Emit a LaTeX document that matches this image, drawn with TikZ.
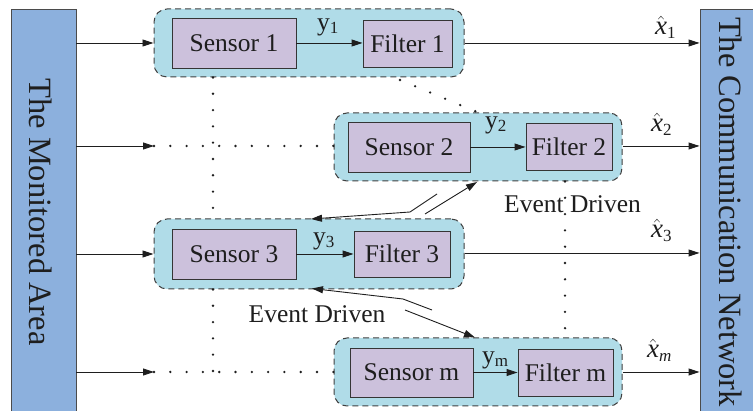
\documentclass[tikz,border=0pt]{standalone}
\usepackage{fontspec}
\setmainfont{Liberation Serif}
\usetikzlibrary{arrows.meta}
\definecolor{barblue}{RGB}{140,176,221}
\definecolor{grpblue}{RGB}{176,220,232}
\definecolor{boxlav}{RGB}{204,193,220}
\definecolor{ink}{RGB}{30,30,30}
\newcommand\xh[1]{$\hat{\mbox{\itshape x}}_{\mbox{\fontsize{17}{17}\selectfont #1}}$}
\newcommand\yl[1]{y\raisebox{-3pt}{\fontsize{17}{17}\selectfont #1}}
\begin{document}
\begin{tikzpicture}[x=1pt,y=-1pt, font=\fontsize{25.5}{30}\selectfont, text=ink,
 bar/.style={draw=ink!80, line width=0.9pt, fill=barblue, inner sep=0pt},
 bartext/.style={rotate=-90, inner sep=0pt, font=\fontsize{32.5}{36}\selectfont},
 grp/.style={draw=ink!85, dash pattern=on 6pt off 4pt, line width=1pt, fill=grpblue, rounded corners=13pt, inner sep=0pt},
 box/.style={draw=ink!90, line width=0.9pt, fill=boxlav, inner sep=0pt},
 arr/.style={draw=ink, line width=0.9pt, -{Triangle[length=11pt,width=7pt]}},
 dotl/.style={draw=ink, line width=2.6pt, line cap=round, dash pattern=on 0pt off 16.3pt},
 lab/.style={inner sep=0pt}]
\useasboundingbox (0,0) rectangle (753,411);
% side bars
\node[bar, minimum width=65pt, minimum height=415pt] (lbar) at (43.5,216.5) {};
\node[bartext] (ltxt) at (41,212) {The Monitored Area};
\node[bar, minimum width=65pt, minimum height=415pt] (rbar) at (732.5,216.5) {};
\node[bartext] (rtxt) at (730.5,212) {The Communication Network};
% groups
\node[grp, minimum width=310pt, minimum height=68pt] (g1) at (309,43) {};
\node[grp, minimum width=288pt, minimum height=68pt] (g2) at (478,147) {};
\node[grp, minimum width=310pt, minimum height=70pt] (g3) at (309,254) {};
\node[grp, minimum width=288pt, minimum height=68pt] (gm) at (478,372) {};
% boxes
\node[box, minimum width=124pt, minimum height=50pt] (s1) at (234,43) {Sensor 1};
\node[box, minimum width=89pt, minimum height=47pt] (f1) at (407.5,43.5) {Filter 1};
\node[box, minimum width=122pt, minimum height=50pt] (s2) at (409,147) {Sensor 2};
\node[box, minimum width=86pt, minimum height=47pt] (f2) at (569,146.5) {Filter 2};
\node[box, minimum width=124pt, minimum height=50pt] (s3) at (234,254) {Sensor 3};
\node[box, minimum width=96pt, minimum height=46pt] (f3) at (402,254) {Filter 3};
\node[box, minimum width=123pt, minimum height=49pt] (sm) at (411.5,372.5) {Sensor m};
\node[box, minimum width=95pt, minimum height=47pt] (fm) at (565.5,372.5) {Filter m};
% helper coordinates
\coordinate (c2) at (154,146);
\coordinate (cm) at (154,372);
\coordinate (vl) at (213,0);
\coordinate (vr) at (565,0);
\coordinate (d1) at (400,80);
\coordinate (d2) at (477,112);
% dotted lines
\draw[dotl] (vl |- g1.south) -- (vl |- g3.north);
\draw[dotl] (vl |- g3.south) -- (vl |- cm);
\draw[dotl] (c2) -- (g2.west |- c2);
\draw[dotl] (cm) -- (gm.west |- cm);
\draw[dotl] (vr |- g2.south) -- (vr |- gm.north);
\draw[dotl] (d1) -- (d2);
% input arrows
\draw[arr] (lbar.east |- s1) -- (g1.west |- s1);
\draw[arr] (lbar.east |- c2) -- (c2);
\draw[arr] (lbar.east |- s3) -- (g3.west |- s3);
\draw[arr] (lbar.east |- cm) -- (cm);
% sensor to filter
\draw[arr] (s1.east) -- (s1.east -| f1.west);
\draw[arr] (s2.east) -- (s2.east -| f2.west);
\draw[arr] (s3.east) -- (s3.east -| f3.west);
\draw[arr] (sm.east) -- (sm.east -| fm.west);
% outputs
\draw[arr] (g1.east |- s1) -- (rbar.west |- s1);
\draw[arr] (g2.east |- c2) -- (rbar.west |- c2);
\draw[arr] (g3.east |- 0,253) -- (rbar.west |- 0,253);
\draw[arr] (gm.east |- cm) -- (rbar.west |- cm);
% event driven arrows
\coordinate (ea1) at (437,194);
\coordinate (ea2) at (410,212);
\coordinate (ea3) at (311,219);
\coordinate (eb1) at (425,214);
\coordinate (eb2) at (477,182);
\coordinate (ec1) at (432,310);
\coordinate (ec2) at (403,299);
\coordinate (ec3) at (312,288.5);
\coordinate (ed1) at (405,310);
\coordinate (ed2) at (475,337.5);
\draw[arr] (ea1) -- (ea2) -- (ea3);
\draw[arr] (eb1) -- (eb2);
\draw[arr] (ec1) -- (ec2) -- (ec3);
\draw[arr] (ed1) -- (ed2);
% labels
\node[lab, anchor=base west] (y1) at (317,31) {\yl{1}};
\node[lab, anchor=base west] (y2) at (485,129) {\yl{2}};
\node[lab, anchor=base west] (y3) at (313,245) {\yl{3}};
\node[lab, anchor=base west] (ym) at (482,364) {\yl{m}};
\node[lab, anchor=base west, font=\fontsize{27}{30}\selectfont] (x1) at (655,35) {\xh{1}};
\node[lab, anchor=base west, font=\fontsize{27}{30}\selectfont] (x2) at (651,132) {\xh{2}};
\node[lab, anchor=base west, font=\fontsize{27}{30}\selectfont] (x3) at (651,238) {\xh{3}};
\node[lab, anchor=base west, font=\fontsize{27}{30}\selectfont] (xm) at (647,358) {\xh{\itshape m}};
\node[lab] (ev1) at (572.5,204) {Event Driven};
\node[lab] (ev2) at (317,314) {Event Driven};
\end{tikzpicture}
\end{document}
